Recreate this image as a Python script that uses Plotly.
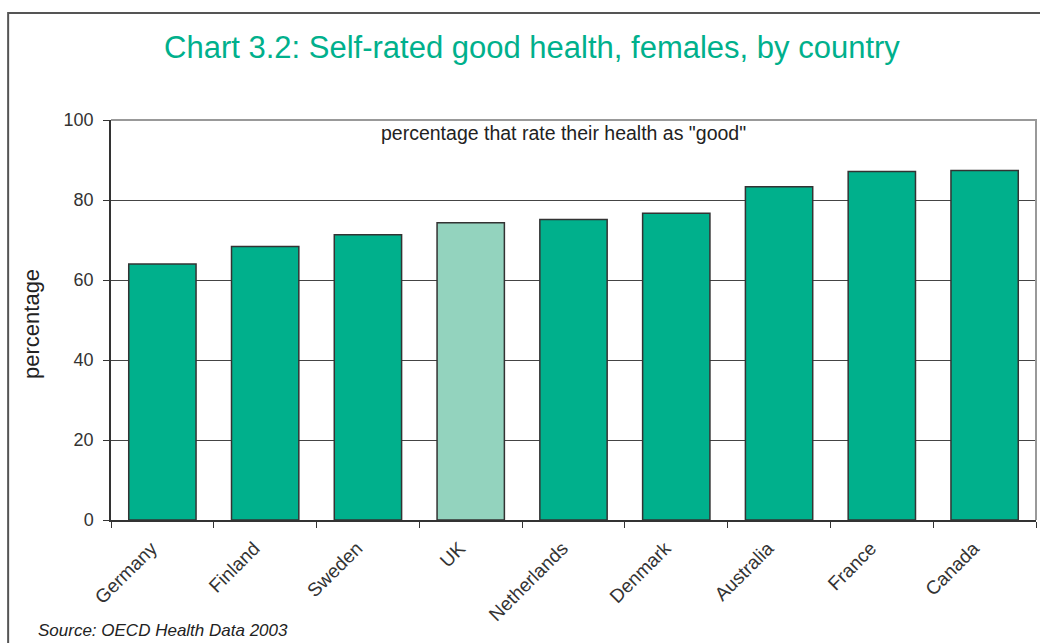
import plotly.graph_objects as go

countries = ["Germany", "Finland", "Sweden", "UK", "Netherlands", "Denmark", "Australia", "France", "Canada"]
values = [64.0, 68.4, 71.3, 74.3, 75.1, 76.7, 83.3, 87.1, 87.4]
highlight = "UK"
y_ticks = [0, 20, 40, 60, 80, 100]

MAIN = "#00B08C"
LIGHT = "#93D3BE"
colors = [LIGHT if c == highlight else MAIN for c in countries]

FONT = "Liberation Sans, Arial, sans-serif"

fig = go.Figure(go.Bar(
    x=countries, y=values,
    marker=dict(color=colors, line=dict(color="#333333", width=1.5)),
))

fig.update_layout(
    width=1040, height=643,
    margin=dict(l=111, r=4, t=120, b=123),
    paper_bgcolor="white", plot_bgcolor="white",
    bargap=0.345,
    showlegend=False,
    font=dict(family=FONT, color="#222222"),
    title=dict(text="Chart 3.2: Self-rated good health, females, by country",
               x=0.5115, xanchor="center", y=0.927, yanchor="middle",
               font=dict(family=FONT, size=31, color="#00B08C")),
)

fig.update_xaxes(
    tickangle=-45, tickfont=dict(size=19, color="#333333"),
    ticklabelstandoff=8, ticklabelshift=-11,
    showline=True, linecolor="#333333", linewidth=1.5,
    ticks="outside", tickson="boundaries", ticklen=6, tickcolor="#333333",
    showgrid=False,
)
fig.update_yaxes(
    range=[0, 100], tickvals=y_ticks,
    tickfont=dict(size=18, color="#333333"),
    ticklabelstandoff=6,
    showline=True, linecolor="#333333", linewidth=1.5,
    ticks="outside", ticklen=6, tickcolor="#333333",
    showgrid=True, gridcolor="#444444", gridwidth=1,
    zeroline=False,
)

# plot area border on top and right (gray)
fig.add_shape(type="path", xref="paper", yref="paper",
              path="M 0 1 L 1 1 L 1 0", line=dict(color="#999999", width=2), layer="above")
# outer chart frame (left and top)
fig.add_shape(type="path", xref="paper", yref="paper",
              path="M -0.1112 -0.4 L -0.1112 1.2674 L 1.2 1.2674",
              line=dict(color="#555555", width=2))

fig.add_annotation(text='percentage that rate their health as "good"',
                   xref="paper", yref="paper", x=0.4897, y=0.9675,
                   xanchor="center", yanchor="middle", showarrow=False,
                   font=dict(family=FONT, size=19.5, color="#222222"))
fig.add_annotation(text="percentage", textangle=-90,
                   xref="paper", yref="paper", x=-0.0865, y=0.49,
                   xanchor="center", yanchor="middle", showarrow=False,
                   font=dict(family=FONT, size=22, color="#222222"))
fig.add_annotation(text="<i>Source: OECD Health Data 2003</i>",
                   xref="paper", yref="paper", x=-0.081, y=-0.277,
                   xanchor="left", yanchor="middle", showarrow=False,
                   font=dict(family=FONT, size=17, color="#222222"))

fig.write_html("out.html", config={"displayModeBar": False},
               post_script="document.body.style.margin='0';document.body.style.overflow='hidden';")
